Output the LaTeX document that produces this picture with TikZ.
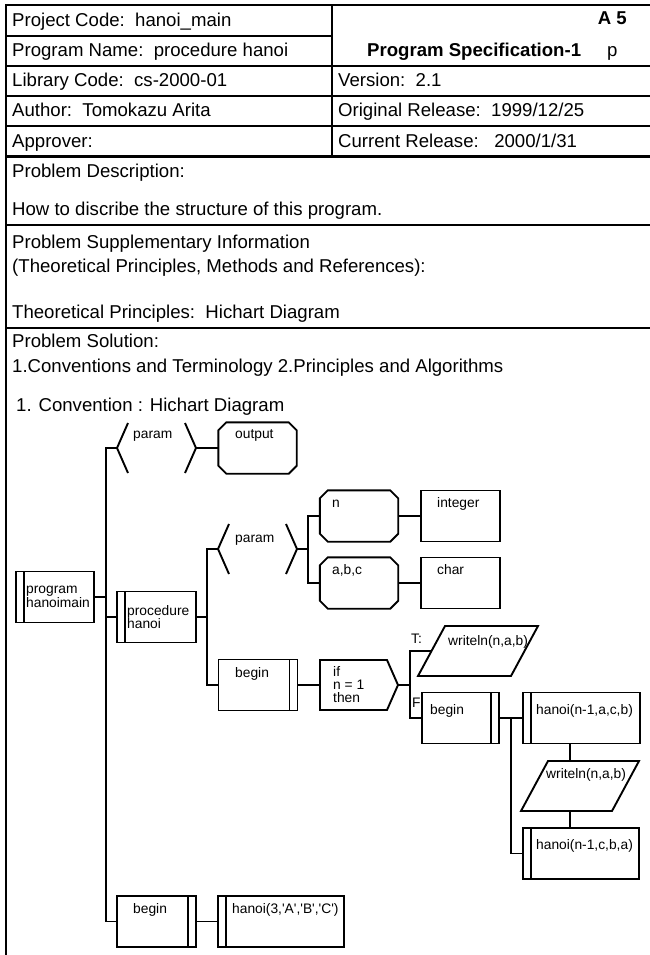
\documentclass[tikz,border=0pt]{standalone}
\usepackage{fontspec}
\setmainfont{Liberation Sans}
\usetikzlibrary{positioning}

\begin{document}
\begin{tikzpicture}[x=1pt,y=-1pt,
  rule/.style={line width=1.6pt},
  heavyrule/.style={line width=3pt},
  wire/.style={line width=1.9pt},
  hdr/.style={anchor=base west,inner sep=0pt,font=\fontsize{18.6}{23}\selectfont},
  hdrbold/.style={hdr,font=\fontsize{18.6}{23}\selectfont\bfseries},
  lbl/.style={anchor=base west,inner sep=0pt,font=\fontsize{13.8}{12}\selectfont},
  lines/.style={anchor=west,inner sep=0pt,align=left,font=\fontsize{13.8}{12}\selectfont},
  blk/.style={draw,line width=1.9pt,rectangle,inner sep=0pt,minimum width=79pt,minimum height=51pt},
  blkl/.style={blk,path picture={\draw[line width=1.9pt] ([xshift=8pt]path picture bounding box.north west) -- ([xshift=8pt]path picture bounding box.south west);}},
  blkr/.style={blk,path picture={\draw[line width=1.9pt] ([xshift=-8pt]path picture bounding box.north east) -- ([xshift=-8pt]path picture bounding box.south east);}},
  octo/.style={rectangle,inner sep=0pt,minimum width=78pt,minimum height=51pt},
]
\useasboundingbox (0,0) rectangle (650,955);
%%%%%%%%%%%%%%%% header frame
\draw[rule] (6,955) -- (6,5) -- (650,5);
\draw[rule] (6,36) -- (332,36);
\foreach \yy in {66,96,126} \draw[rule] (6,\yy) -- (650,\yy);
\draw[heavyrule] (6,156) -- (650,156);
\draw[rule] (332,5) -- (332,156);
\draw[rule] (6,225) -- (650,225);
\draw[rule] (6,328) -- (650,328);
%%%%%%%%%%%%%%%%
\node[hdr] (pcode) at (12,27) {Project Code:\ \ hanoi\_main};
\node[hdr] (pname) at (12,57) {Program Name:\ \ procedure hanoi};
\node[hdr] (lcode) at (12,87) {Library Code:\ \ cs-2000-01};
\node[hdr] (author) at (12,117) {Author:\ \ Tomokazu Arita};
\node[hdr] (approver) at (12,147) {Approver:};
\node[hdrbold,anchor=base east] (sheet) at (627,25) {A 5};
\node[hdrbold] (spec) at (367,57) {Program Specification-1};
\node[hdr] (page) at (607,57) {p};
\node[hdr] (version) at (338,87) {Version:\ \ 2.1};
\node[hdr] (orel) at (338,117) {Original Release:\ \ 1999/12/25};
\node[hdr] (crel) at (338,147) {Current Release:\ \ \ 2000/1/31};
%%%%%%%%%%%%%%%%
\node[hdr] (pdesc) at (12,177) {Problem Description:};
\node[hdr] (pdesc2) at (12,215) {How to discribe the structure of this program.};
\node[hdr] (psupp) at (12,248) {Problem Supplementary Information};
\node[hdr] (psupp2) at (12,272) {(Theoretical Principles, Methods and References):};
\node[hdr] (theory) at (12,318) {Theoretical Principles:\ \ Hichart Diagram};
\node[hdr] (psol) at (12,347) {Problem Solution:};
\node[hdr] (psol2) at (12,372) {1.Conventions and Terminology 2.Principles and Algorithms};
\node[hdr] (conv) at (16,411) {1. Convention : Hichart Diagram};
%%%%%%%%%%%%%%%% program hanoimain
\node[blkl,minimum width=78pt] (prog) at (55,597) {};
\node[lines] (progtxt) at (26,597) {program\\hanoimain};
\coordinate (bus) at (106,448);
\coordinate (p1in) at (117,448);
\coordinate (p1out) at (196,448);
\draw[wire] (128,423) -- (p1in) -- (128,473);
\draw[wire] (185,423) -- (p1out) -- (185,473);
\node[lbl] (p1txt) at (133,438) {param};
\node[octo] (out) at (257.5,448) {};
\node[lbl] (outtxt) at (235,438) {output};
\draw[wire] (p1out) -- (out.west);
\node[blkl] (proc) at (156.5,617) {};
\node[lines] (proctxt) at (127,617) {procedure\\hanoi};
\node[blkr] (mbegin) at (156.5,921.5) {};
\node[lbl] (mbegintxt) at (133,913) {begin};
\node[blkl,minimum width=126pt] (call) at (281,921.5) {};
\node[lbl] (calltxt) at (232,913) {hanoi(3,\textquotesingle A\textquotesingle,\textquotesingle B\textquotesingle,\textquotesingle C\textquotesingle)};
\draw[wire] (p1in) -- (bus) |- (mbegin.west);
\draw[wire] (prog.east) -- (prog.east -| bus);
\draw[wire] (proc.west -| bus) -- (proc.west);
\draw[wire] (mbegin.east) -- (call.west);
%%%%%%%%%%%%%%%% procedure hanoi
\coordinate (sbus) at (207,549);
\coordinate (p2in) at (218,549);
\coordinate (p2out) at (297,549);
\draw[wire] (229,524) -- (p2in) -- (229,574);
\draw[wire] (286,524) -- (p2out) -- (286,574);
\node[lbl] (p2txt) at (235,542) {param};
\node[blkr] (pbegin) at (258,685) {};
\node[lbl] (pbegintxt) at (235,677) {begin};
\draw[wire] (proc.east) -- (proc.east -| sbus);
\draw[wire] (p2in) -- (sbus) |- (pbegin.west);
%%%%%%%%%%%%%%%% param list
\coordinate (ssbus) at (308,549);
\node[octo] (nvar) at (359,516) {};
\node[lbl] (nvartxt) at (332,507) {n};
\node[blk] (ntype) at (460.5,516) {};
\node[lbl] (ntypetxt) at (437,507) {integer};
\node[octo] (cvar) at (359,583) {};
\node[lbl] (cvartxt) at (332,574) {a,b,c};
\node[blk] (ctype) at (460.5,583) {};
\node[lbl] (ctypetxt) at (437,574) {char};
\draw[wire] (p2out) -- (ssbus);
\draw[wire] (nvar.west) -| (ssbus) |- (cvar.west);
\draw[wire] (nvar.east) -- (ntype.west);
\draw[wire] (cvar.east) -- (ctype.west);
% cut corners of the data boxes
\foreach \nn in {out,nvar,cvar}
  \draw[wire] ([xshift=8pt]\nn.north west) -- ([xshift=-8pt]\nn.north east) -- ([yshift=-8pt]\nn.north east)
    -- ([yshift=8pt]\nn.south east) -- ([xshift=-8pt]\nn.south east) -- ([xshift=8pt]\nn.south west)
    -- ([yshift=8pt]\nn.south west) -- ([yshift=-8pt]\nn.north west) -- cycle;
%%%%%%%%%%%%%%%% if n = 1
\coordinate (ifin) at (320,685);
\coordinate (ifout) at (398,685);
\draw[wire] (320,660) -- (387,660) -- (ifout) -- (387,710) -- (320,710) -- cycle;
\node[lines,font=\fontsize{13.8}{13}\selectfont] (iftxt) at (333,685) {if\\n = 1\\then};
\draw[wire] (pbegin.east) -- (ifin);
\coordinate (tf) at (410,685);
\coordinate (wl1in) at (431.5,651);
\draw[wire] (445,626) -- (538,626) -- (511,676) -- (418,676) -- cycle;
\node[lbl] (wl1txt) at (448,645) {writeln(n,a,b)};
\node[lbl] (ttxt) at (411,643) {T:};
\node[lbl] (ftxt) at (412,707) {F};
\node[blkr,fill=white,minimum width=77pt] (fbegin) at (460.5,718) {};
\node[lbl] (fbegintxt) at (430,714) {begin};
\draw[wire] (ifout) -- (tf);
\draw[wire] (wl1in) -| (tf) |- (fbegin.west);
%%%%%%%%%%%%%%%% else branch
\coordinate (bus2) at (511,718);
\node[blkl,minimum width=117pt] (hanoi1) at (581.5,718) {};
\node[lbl] (hanoi1txt) at (536,714) {hanoi(n-1,a,c,b)};
\coordinate (wl2top) at (570,761);
\coordinate (wl2bot) at (570,811);
\draw[wire] (548,761) -- (639,761) -- (612,811) -- (521,811) -- cycle;
\node[lbl] (wl2txt) at (546,778) {writeln(n,a,b)};
\node[blkl,minimum width=116pt] (hanoi3) at (581,853.5) {};
\node[lbl] (hanoi3txt) at (536,849) {hanoi(n-1,c,b,a)};
\draw[wire] (fbegin.east) -- (hanoi1.west);
\draw[wire] (bus2) |- (hanoi3.west);
\draw[wire] (hanoi1.south -| wl2top) -- (wl2top);
\draw[wire] (wl2bot) -- (hanoi3.north -| wl2bot);
\end{tikzpicture}
\end{document}
